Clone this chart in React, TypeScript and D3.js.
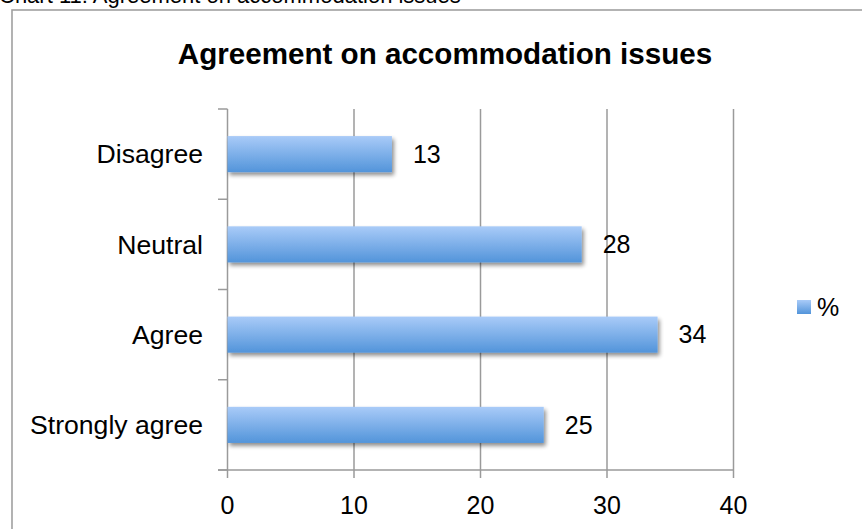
import React from "react";
import * as d3 from "d3";

const categories = ["Disagree", "Neutral", "Agree", "Strongly agree"];
const values = [13, 28, 34, 25];
const xTicks = [0, 10, 20, 30, 40];
const seriesName = "%";
const chartTitle = "Agreement on accommodation issues";
const caption = "Chart 11: Agreement on accommodation issues";

const W = 862;
const H = 529;
const FONT = "'Liberation Sans', Arial, Helvetica, sans-serif";
const GRID = "#9a9a9a";

export default function App() {
  const x = d3.scaleLinear().domain([0, 40]).range([227.5, 733.5]);
  const y = d3
    .scaleBand<string>()
    .domain(categories)
    .range([109, 470])
    .paddingInner(0.6)
    .paddingOuter(0.3);
  const step = y.step();
  const boundaries = d3.range(categories.length + 1).map((i) => 109 + i * step);

  return (
    <svg
      width={W}
      height={H}
      style={{ position: "fixed", left: 0, top: 0, background: "#fff" }}
      fontFamily={FONT}
    >
      <defs>
        <linearGradient id="barGrad" x1="0" y1="0" x2="0" y2="1">
          <stop offset="0%" stopColor="#a9cbf8" />
          <stop offset="100%" stopColor="#5294da" />
        </linearGradient>
        <filter id="shadow" x="-10%" y="-30%" width="130%" height="190%">
          <feGaussianBlur in="SourceAlpha" stdDeviation="2.2" />
          <feOffset dx="2" dy="3" result="ob" />
          <feComponentTransfer>
            <feFuncA type="linear" slope="0.45" />
          </feComponentTransfer>
          <feMerge>
            <feMergeNode />
            <feMergeNode in="SourceGraphic" />
          </feMerge>
        </filter>
      </defs>
      <rect x={0} y={0} width={W} height={H} fill="#fff" />
      <text x={-1} y={3} fontSize={22} fill="#000">
        {caption}
      </text>
      <rect
        x={12}
        y={10}
        width={W + 20}
        height={H + 20}
        fill="none"
        stroke="#a0a0a0"
        strokeWidth={1.6}
      />
      <text
        x={445}
        y={64}
        textAnchor="middle"
        fontSize={29.6}
        fontWeight="bold"
        fill="#000"
      >
        {chartTitle}
      </text>
      {/* gridlines */}
      {xTicks.map((t) => (
        <line
          key={"g" + t}
          x1={x(t)}
          x2={x(t)}
          y1={109}
          y2={478}
          stroke={GRID}
          strokeWidth={1.5}
        />
      ))}
      {/* category axis ticks */}
      {boundaries.map((b, i) => (
        <line
          key={"c" + i}
          x1={218}
          x2={x(0)}
          y1={b}
          y2={b}
          stroke={GRID}
          strokeWidth={1.5}
        />
      ))}
      <line x1={218} x2={x(40)} y1={470} y2={470} stroke={GRID} strokeWidth={1.5} />
      {/* bars */}
      {categories.map((c, i) => (
        <rect
          key={"b" + c}
          x={x(0)}
          y={y(c)}
          width={x(values[i]) - x(0)}
          height={y.bandwidth()}
          fill="url(#barGrad)"
          filter="url(#shadow)"
        />
      ))}
      {/* value labels */}
      {categories.map((c, i) => (
        <text
          key={"v" + c}
          x={x(values[i]) + 21}
          y={(y(c) as number) + y.bandwidth() / 2}
          dy="0.35em"
          fontSize={25}
          fill="#000"
        >
          {values[i]}
        </text>
      ))}
      {/* category labels */}
      {categories.map((c) => (
        <text
          key={"l" + c}
          x={203}
          y={(y(c) as number) + y.bandwidth() / 2}
          dy="0.35em"
          textAnchor="end"
          fontSize={26.6}
          fill="#000"
        >
          {c}
        </text>
      ))}
      {/* x tick labels */}
      {xTicks.map((t) => (
        <text
          key={"t" + t}
          x={x(t)}
          y={514}
          textAnchor="middle"
          fontSize={25}
          fill="#000"
        >
          {t}
        </text>
      ))}
      {/* legend */}
      <rect x={797} y={300} width={14} height={14} fill="url(#barGrad)" />
      <text x={817} y={316} fontSize={25} fill="#000">
        {seriesName}
      </text>
    </svg>
  );
}
